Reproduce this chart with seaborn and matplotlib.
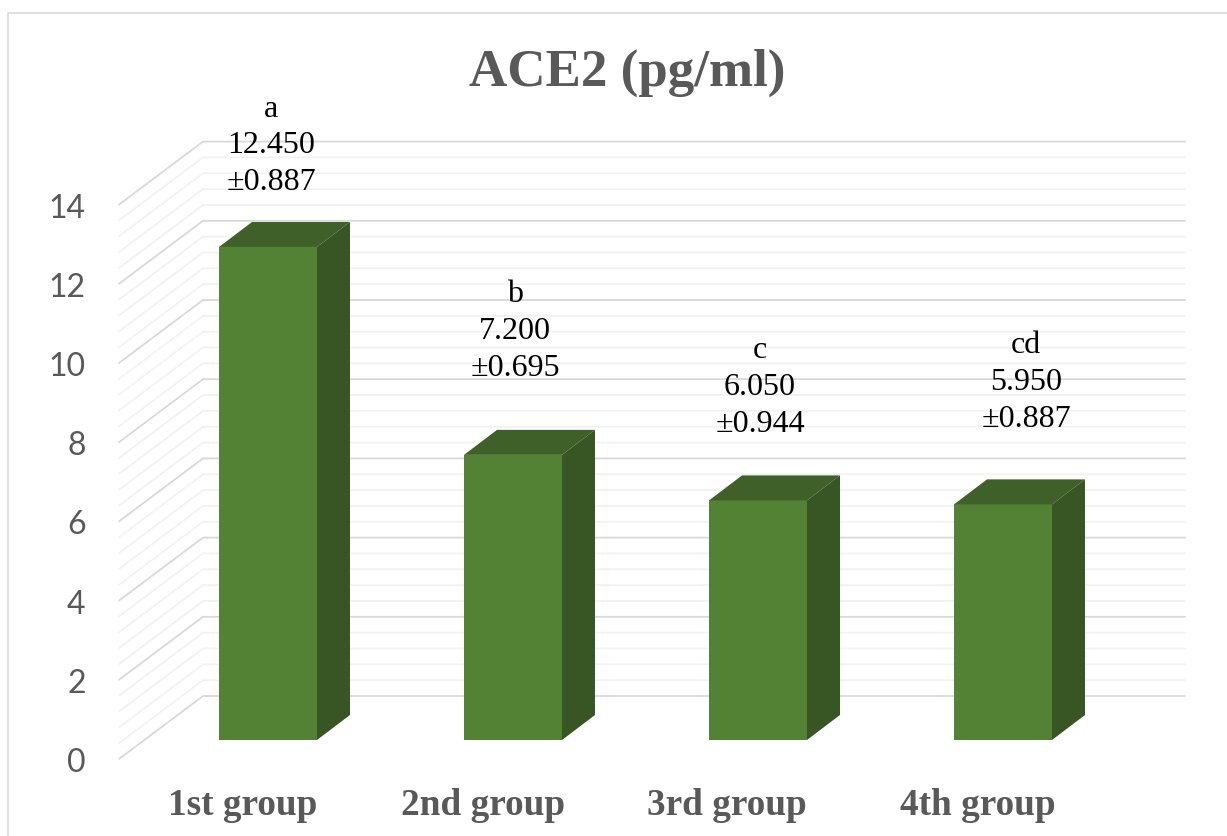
import matplotlib
matplotlib.use('Agg')
import matplotlib.pyplot as plt
from matplotlib.lines import Line2D
from matplotlib.patches import Polygon
import numpy as np
import pandas as pd
import seaborn as sns

groups = ['1st group', '2nd group', '3rd group', '4th group']
means = [12.450, 7.200, 6.050, 5.950]
errors = ['0.887', '0.695', '0.944', '0.887']
letters = ['a', 'b', 'c', 'cd']
value_text = ['12.450', '7.200', '6.050', '5.950']
yticks = [0, 2, 4, 6, 8, 10, 12, 14]

# layout, measured in pixels of the 1227x837 picture
W, H = 1227, 837
PX_X = 245.0   # one category
PX_Y = 39.6    # one y unit
X0, Y0 = 268, 741   # where the first bar centre / value 0 land
LEFT, RIGHT, TOP, BOTTOM = 119, 1185, 14, 760
BACK_FLOOR = 697
label_dx = [3, 2, 2, 23]
label_dy = [102, 124, 114, 123]
group_dx = [-25, -30, -31, -25]

sns.set_style('white')
plt.rcParams['font.family'] = ['Lato', 'DejaVu Sans']

df = pd.DataFrame({'group': groups, 'mean': means})

fig = plt.figure(figsize=(W / 100, H / 100), dpi=100)
ax = fig.add_axes([LEFT / W, 1 - BOTTOM / H, (RIGHT - LEFT) / W, (BOTTOM - TOP) / H])
sns.barplot(data=df, x='group', y='mean', color='#548235', width=98 / PX_X,
            saturation=1, linewidth=0, ax=ax, zorder=3)
ax.set_xlim((LEFT - X0) / PX_X, (RIGHT - X0) / PX_X)
ax.set_ylim((Y0 - BOTTOM) / PX_Y, (Y0 - TOP) / PX_Y)

# walls: left side wall + back wall, gridline every 0.4
front_dy = (BOTTOM - Y0) / PX_Y
back_dy = (Y0 - BACK_FLOOR) / PX_Y
wall_x = LEFT / PX_X - X0 / PX_X
back_x = wall_x + 84 / PX_X
for v in np.arange(0, 14.01, 0.4):
    major = abs(v / 2 - round(v / 2)) < 1e-6
    color = '#D9D9D9' if major else '#F2F2F2'
    ax.plot([wall_x, back_x, ax.get_xlim()[1]],
            [v - front_dy, v + back_dy, v + back_dy],
            color=color, lw=1.3, zorder=1, clip_on=False, solid_joinstyle='miter')

# fake 3d faces on each bar
depth_x, depth_y = 33 / PX_X, 25 / PX_Y
for p in ax.patches[:len(means)]:
    x, w, h = p.get_x(), p.get_width(), p.get_height()
    ax.add_patch(Polygon([(x, h), (x + w, h), (x + w + depth_x, h + depth_y), (x + depth_x, h + depth_y)],
                         facecolor='#3F6129', edgecolor='none', zorder=3))
    ax.add_patch(Polygon([(x + w, 0), (x + w + depth_x, depth_y), (x + w + depth_x, h + depth_y), (x + w, h)],
                         facecolor='#375623', edgecolor='none', zorder=3))

for i, m in enumerate(means):
    ax.annotate(f'{letters[i]}\n{value_text[i]}\n\u00b1{errors[i]}', xy=(i, m),
                xytext=(label_dx[i], label_dy[i]), textcoords='offset pixels',
                ha='center', va='center', family='Liberation Serif', fontsize=23,
                color='black', linespacing=1.36, zorder=5, annotation_clip=False)

sns.despine(ax=ax, left=True, bottom=True, top=True, right=True)
ax.set_xlabel('')
ax.set_ylabel('')
ax.patch.set_alpha(0)

# tick labels sit on the front edge of the side wall
ax.set_yticks([t - front_dy for t in yticks], [str(t) for t in yticks])
ax.tick_params(axis='y', length=0, pad=24, labelsize=23, labelcolor='#595959')
ax.set_xticks([i + d / PX_X for i, d in enumerate(group_dx)], groups)
ax.tick_params(axis='x', length=0, pad=20, labelsize=26.8, labelcolor='#595959')
for lab in ax.get_xticklabels():
    lab.set_family('Liberation Serif')
    lab.set_fontweight('bold')

fig.text(627 / W, 1 - 73 / H, 'ACE2 (pg/ml)', ha='center', va='center', family='Liberation Serif',
         fontweight='bold', fontsize=38.2, color='#595959')

# chart frame, only top and left show in the crop
fig.add_artist(Line2D([8 / W, 8 / W, 1], [0, 1 - 14 / H, 1 - 14 / H], color='#D9D9D9', lw=1.2))

fig.savefig('out.png', dpi=100)
